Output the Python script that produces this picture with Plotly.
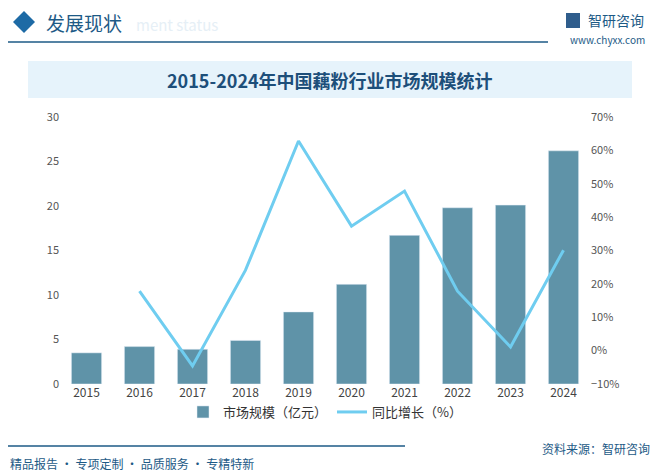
import plotly.graph_objects as go

years = ["2015","2016","2017","2018","2019","2020","2021","2022","2023","2024"]
scale = [3.5, 4.2, 3.9, 4.9, 8.1, 11.2, 16.7, 19.8, 20.1, 26.2]
growth_years = years[1:]
growth = [17.8, -4.6, 24.1, 62.8, 37.3, 47.8, 17.8, 1.1, 30.1]

F = "Noto Sans CJK SC"
OFF = 8
W, H = 662 - OFF, 472 - OFF
pl, pr, pt, pb = 60 - OFF, 72, 117 - OFF, 472 - 384
pw, ph = W - pl - pr, H - pt - pb
def px(x): return (x - OFF - pl) / pw
def py(y): return (H - pb - (y - OFF)) / ph

fig = go.Figure()
fig.add_bar(x=years, y=scale, name="市场规模（亿元）", marker_color="#5f93a8", width=0.57)
fig.add_scatter(x=growth_years, y=growth, name="同比增长（%）", yaxis="y2", mode="lines",
                line=dict(color="#6fcdf0", width=3))

fig.update_layout(
    width=W, height=H, margin=dict(l=pl, r=pr, t=pt, b=pb, autoexpand=False),
    paper_bgcolor="white", plot_bgcolor="white",
    font=dict(family=F, size=12, color="#444"),
    xaxis=dict(showline=False, ticks="", tickfont=dict(size=12, color="#444")),
    yaxis=dict(range=[0, 30], dtick=5, showgrid=False, zeroline=False, tickfont=dict(size=11, color="#555")),
    yaxis2=dict(range=[-10, 70], dtick=10, overlaying="y", side="right", showgrid=False,
                zeroline=False, ticksuffix="%", tickfont=dict(size=11, color="#555")),
    legend=dict(orientation="h", x=0.5, xanchor="center", y=py(412), yanchor="middle",
                font=dict(size=13, color="#333")),
)
shapes = [
    dict(type="rect", xref="paper", yref="paper", x0=px(28), x1=px(632), y0=py(98), y1=py(61),
         fillcolor="#e6f3fb", line_width=0),
    dict(type="line", xref="paper", yref="paper", x0=px(8), x1=px(548), y0=py(42), y1=py(42),
         line=dict(color="#1d5a86", width=1.5)),
    dict(type="path", xref="paper", yref="paper",
         path=f"M {px(13)},{py(22)} L {px(24)},{py(11)} L {px(35)},{py(22)} L {px(24)},{py(33)} Z",
         fillcolor="#1d6aa5", line_width=0),
    dict(type="line", xref="paper", yref="paper", x0=px(8), x1=px(405), y0=py(446), y1=py(446),
         line=dict(color="#1d5a86", width=1.5)),
    dict(type="rect", xref="paper", yref="paper", x0=px(566), x1=px(580), y0=py(28), y1=py(13),
         fillcolor="#2f5d8c", line_width=0),
]
fig.update_layout(shapes=shapes)
ann = [
    dict(text="ment status", x=px(134), y=py(24), size=15, color="#e6eff6", xa="left"),
    dict(text="发展现状", x=px(44), y=py(22), size=19, color="#1d5a86", xa="left"),
    dict(text="智研咨询", x=px(586), y=py(20), size=14, color="#1d5a86", xa="left"),
    dict(text="www.chyxx.com", x=px(568), y=py(40), size=10, color="#1d5a86", xa="left"),
    dict(text="<b>2015-2024年中国藕粉行业市场规模统计</b>", x=px(330), y=py(80), size=18, color="#1d4f7a", xa="center"),
    dict(text="资料来源：智研咨询", x=px(652), y=py(448), size=12, color="#1d5a86", xa="right"),
    dict(text="精品报告 · 专项定制 · 品质服务 · 专精特新", x=px(8), y=py(463), size=12, color="#1d5a86", xa="left"),
]
fig.update_layout(annotations=[dict(text=a["text"], x=a["x"], y=a["y"], xref="paper", yref="paper",
    xanchor=a["xa"], yanchor="middle", showarrow=False, font=dict(size=a["size"], color=a["color"], family=F))
    for a in ann])
fig.write_html("out.html")
